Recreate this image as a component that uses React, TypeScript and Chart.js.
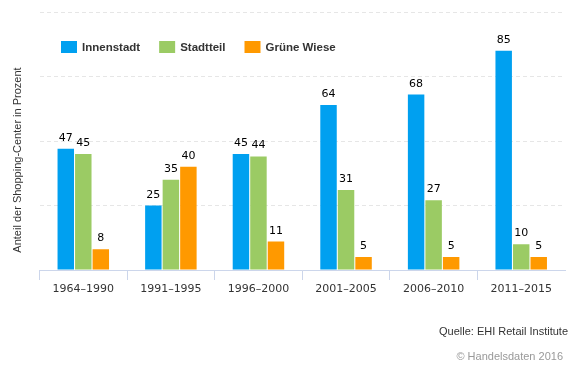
import React, { useEffect, useRef } from "react";
import { Chart, registerables } from "chart.js";

Chart.register(...registerables);

const categories = ["1964–1990", "1991–1995", "1996–2000", "2001–2005", "2006–2010", "2011–2015"];
const seriesNames = ["Innenstadt", "Stadtteil", "Grüne Wiese"];
const innenstadt = [47, 25, 45, 64, 68, 85];
const stadtteil = [45, 35, 44, 31, 27, 10];
const grueneWiese = [8, 40, 11, 5, 5, 5];
const seriesColors = ["#00a0f0", "#9bcb64", "#ff9900"];
const yMax = 100;
const yStep = 25;
const yTitle = "Anteil der Shopping-Center in Prozent";
const sourceText = "Quelle: EHI Retail Institute";
const creditText = "© Handelsdaten 2016";

const overlayPlugin = {
  id: "overlay",
  afterDatasetsDraw(chart: any) {
    const ctx = chart.ctx;
    ctx.save();
    // data labels
    ctx.font = "11px 'DejaVu Sans'";
    ctx.fillStyle = "#000";
    ctx.textAlign = "center";
    ctx.textBaseline = "alphabetic";
    chart.data.datasets.forEach((ds: any, i: number) => {
      const meta = chart.getDatasetMeta(i);
      meta.data.forEach((el: any, j: number) => {
        ctx.fillText(String(ds.data[j]), el.x, el.y - 8);
      });
    });
    // legend
    let x = chart.chartArea.left + 21.5;
    const y = 41;
    ctx.textAlign = "left";
    ctx.textBaseline = "middle";
    ctx.font = "bold 11.5px 'Liberation Sans'";
    chart.data.datasets.forEach((ds: any) => {
      ctx.fillStyle = ds.backgroundColor;
      ctx.fillRect(x, y, 16, 12);
      ctx.fillStyle = "#333";
      ctx.fillText(ds.label, x + 21, y + 6.5);
      x += 21 + ctx.measureText(ds.label).width + 19;
    });
    // y title
    ctx.font = "11px 'Liberation Sans'";
    ctx.fillStyle = "#333";
    ctx.save();
    ctx.translate(18, 160);
    ctx.rotate(-Math.PI / 2);
    ctx.textAlign = "center";
    ctx.textBaseline = "middle";
    ctx.fillText(yTitle, 0, 0);
    ctx.restore();
    // source & credit
    ctx.textAlign = "right";
    ctx.textBaseline = "middle";
    ctx.fillStyle = "#333";
    ctx.fillText(sourceText, 568, 332);
    ctx.fillStyle = "#999";
    ctx.fillText(creditText, 563, 357);
    ctx.restore();
  },
};

export default function App() {
  const ref = useRef<HTMLCanvasElement | null>(null);
  useEffect(() => {
    document.body.style.margin = "0";
    const canvas = ref.current;
    if (!canvas) return;
    const data = [innenstadt, stadtteil, grueneWiese];
    const chart = new Chart(canvas, {
      type: "bar",
      data: {
        labels: categories,
        datasets: seriesNames.map((name, i) => ({
          label: name,
          data: data[i],
          backgroundColor: seriesColors[i],
          borderWidth: 0,
          categoryPercentage: 0.6,
          barPercentage: 0.94,
        })),
      },
      options: {
        animation: false,
        responsive: false,
        maintainAspectRatio: false,
        layout: { padding: { top: 12, right: 11, left: 0, bottom: 0 } },
        plugins: {
          legend: { display: false },
          tooltip: { enabled: false },
          title: { display: false },
        },
        scales: {
          x: {
            offset: true,
            grid: {
              offset: true,
              drawOnChartArea: false,
              drawTicks: true,
              tickLength: 10,
              color: (c: any) => (c.type === "tick" ? "#ccd6eb" : "rgba(0,0,0,0)"),
            },
            border: { display: true, color: "#ccd6eb", width: 1 },
            ticks: {
              font: { family: "'DejaVu Sans'", size: 11 },
              color: "#333",
              padding: 3,
              maxRotation: 0,
            },
            afterFit: (s: any) => {
              s.height = 104;
            },
          },
          y: {
            min: 0,
            max: yMax,
            ticks: { display: false, stepSize: yStep },
            border: { display: false, dash: [4, 3] },
            grid: { color: "#e6e6e6", drawTicks: false },
            afterFit: (s: any) => {
              s.width = 39.5;
            },
          },
        },
      },
      plugins: [overlayPlugin],
    });
    return () => chart.destroy();
  }, []);
  return (
    <div style={{ width: 576, height: 374 }}>
      <canvas ref={ref} width={576} height={374} style={{ display: "block" }} />
    </div>
  );
}
